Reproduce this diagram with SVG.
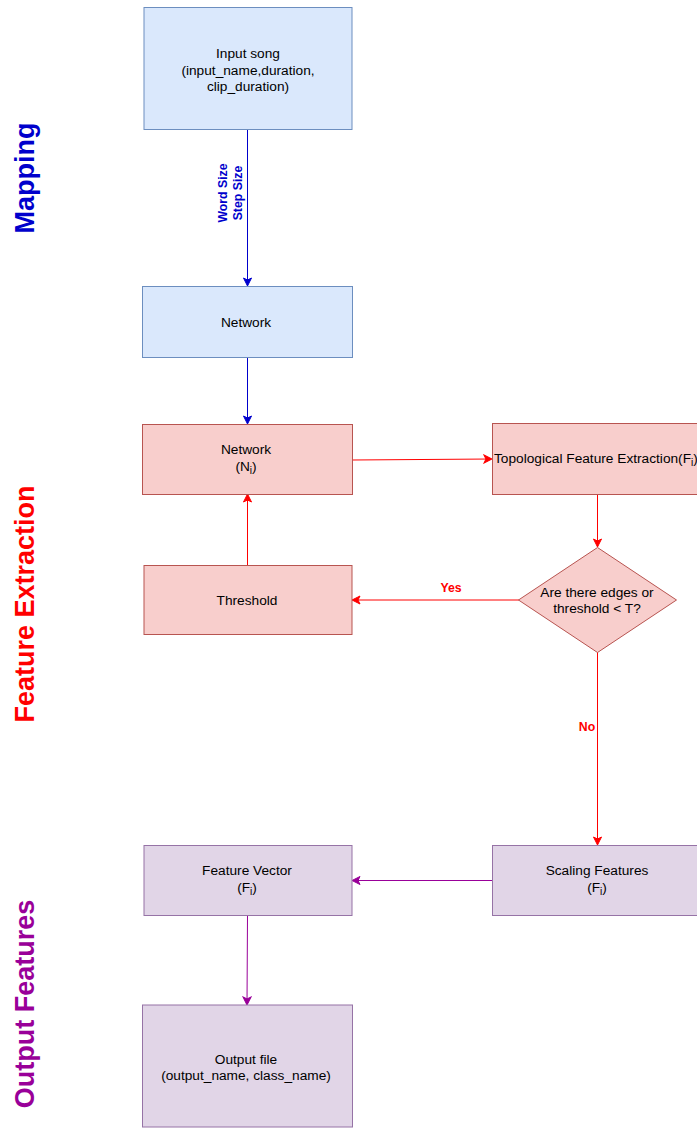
<svg xmlns="http://www.w3.org/2000/svg" width="697" height="1128" viewBox="0 0 697 1128">
<style>
text{font-family:"Liberation Sans",Arial,sans-serif;font-size:13.7px;fill:#000;text-anchor:middle}
.blue{fill:#dae8fc;stroke:#6c8ebf;stroke-width:1}
.red{fill:#f8cecc;stroke:#b85450;stroke-width:1}
.pur{fill:#e1d5e7;stroke:#9673a6;stroke-width:1}
.side{font-size:27px;font-weight:bold}
.lbl{font-weight:bold;font-size:12.3px}
.eb{stroke:#0000CC;fill:none;stroke-width:1}
.er{stroke:#FF0000;fill:none;stroke-width:1}
.ep{stroke:#990099;fill:none;stroke-width:1}
</style>
<defs>
<marker id="ab" markerWidth="10" markerHeight="10" refX="8" refY="5" orient="auto" markerUnits="userSpaceOnUse"><path d="M1,1 L9,5 L1,9 L3,5 z" fill="#0000CC" stroke="#0000CC"/></marker>
<marker id="ar" markerWidth="10" markerHeight="10" refX="8" refY="5" orient="auto" markerUnits="userSpaceOnUse"><path d="M1,1 L9,5 L1,9 L3,5 z" fill="#FF0000" stroke="#FF0000"/></marker>
<marker id="ap" markerWidth="10" markerHeight="10" refX="8" refY="5" orient="auto" markerUnits="userSpaceOnUse"><path d="M1,1 L9,5 L1,9 L3,5 z" fill="#990099" stroke="#990099"/></marker>
</defs>
<rect width="697" height="1128" fill="#ffffff"/>

<g id="side-labels">
<text class="side" style="fill:#0000CC" transform="translate(34,178) rotate(-90)">Mapping</text>
<text class="side" style="fill:#FF0000" transform="translate(34,604) rotate(-90)">Feature Extraction</text>
<text class="side" style="fill:#990099" transform="translate(34,1004) rotate(-90)">Output Features</text>
</g>

<g id="connectors">
<path class="eb" d="M247.5,130 L247.5,285" marker-end="url(#ab)"/>
<text class="lbl" style="fill:#0000CC" transform="translate(227,193) rotate(-90)">Word Size</text>
<text class="lbl" style="fill:#0000CC" transform="translate(242,193) rotate(-90)">Step Size</text>
<path class="eb" d="M247.5,357 L247.5,423" marker-end="url(#ab)"/>
<path class="er" d="M352,460 L491,459" marker-end="url(#ar)"/>
<path class="er" d="M597.5,494 L597.5,546" marker-end="url(#ar)"/>
<path class="er" d="M519,600 L353,600" marker-end="url(#ar)"/>
<text class="lbl" style="fill:#FF0000" x="451" y="592">Yes</text>
<path class="er" d="M247.5,565 L247.5,495" marker-end="url(#ar)"/>
<path class="er" d="M597.5,652 L597.5,844" marker-end="url(#ar)"/>
<text class="lbl" style="fill:#FF0000" x="587" y="731">No</text>
<path class="ep" d="M492,880.5 L353,880.5" marker-end="url(#ap)"/>
<path class="ep" d="M247.5,915 L247,1004" marker-end="url(#ap)"/>
</g>

<g id="input-song">
<rect class="blue" x="144" y="7.5" width="208" height="122"/>
<text x="248" y="58">Input song</text>
<text x="248" y="75">(input_name,duration,</text>
<text x="248" y="91">clip_duration)</text>
</g>

<g id="network">
<rect class="blue" x="142.5" y="286.5" width="210" height="71"/>
<text x="246" y="327">Network</text>
</g>

<g id="network-ni">
<rect class="red" x="142.5" y="424.5" width="210" height="70"/>
<text x="246" y="454">Network</text>
<text x="246" y="471">(N<tspan font-size="10" dy="3">i</tspan><tspan dy="-3">)</tspan></text>
</g>

<g id="topological">
<rect class="red" x="492.5" y="423.5" width="210" height="71"/>
<text x="494" y="463" style="text-anchor:start">Topological Feature Extraction(F<tspan font-size="10" dy="3">i</tspan><tspan dy="-3">)</tspan></text>
</g>

<g id="decision">
<polygon class="red" points="597.5,547.5 676.5,600 597.5,652.5 518.5,600"/>
<text x="597" y="597">Are there edges or</text>
<text x="597" y="613">threshold &lt; T?</text>
</g>

<g id="threshold">
<rect class="red" x="144" y="565.5" width="208" height="69"/>
<text x="247" y="605">Threshold</text>
</g>

<g id="scaling">
<rect class="pur" x="492.5" y="845.5" width="210" height="70"/>
<text x="597" y="875">Scaling Features</text>
<text x="597" y="892">(F<tspan font-size="10" dy="3">i</tspan><tspan dy="-3">)</tspan></text>
</g>

<g id="feature-vector">
<rect class="pur" x="144" y="845.5" width="208" height="70"/>
<text x="247" y="875">Feature Vector</text>
<text x="247" y="892">(F<tspan font-size="10" dy="3">i</tspan><tspan dy="-3">)</tspan></text>
</g>

<g id="output-file">
<rect class="pur" x="142.5" y="1005" width="210" height="122"/>
<text x="246" y="1064">Output file</text>
<text x="246" y="1080">(output_name, class_name)</text>
</g>
</svg>
